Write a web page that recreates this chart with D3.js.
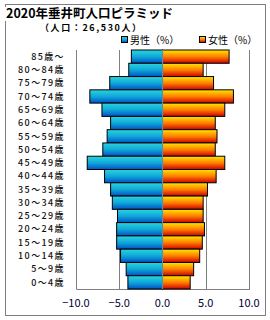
<!DOCTYPE html>
<html>
<head>
<meta charset="utf-8">
<script src="https://cdn.jsdelivr.net/npm/d3@7"></script>
<style>
  body { margin: 0; background: #fff; }
  text { font-family: "Noto Sans CJK JP", "DejaVu Sans", sans-serif; }
</style>
</head>
<body>
<svg id="chart" width="270" height="320"></svg>
<script>
// age groups, top to bottom
const ageGroups = ['85歳～', '80～84歳', '75～79歳', '70～74歳', '65～69歳', '60～64歳',
  '55～59歳', '50～54歳', '45～49歳', '40～44歳', '35～39歳', '30～34歳',
  '25～29歳', '20～24歳', '15～19歳', '10～14歳', '5～9歳', '0～4歳'];

// share of population (%)
const male = [3.6, 3.9, 6.1, 8.4, 7.0, 6.0, 6.4, 6.9, 8.7, 6.7, 6.0, 5.8, 5.2, 5.3, 5.3, 4.85, 4.2, 4.0];
const female = [7.7, 4.7, 5.9, 8.2, 7.2, 6.1, 6.3, 6.1, 7.2, 6.2, 5.2, 4.7, 4.7, 4.85, 4.6, 4.3, 3.6, 3.2];

const xTicks = [-10, -5, 0, 5, 10];

const svg = d3.select('#chart');

const plot = { left: 76, right: 249, top: 50, bottom: 289 };

// Gradients
const defs = svg.append('defs');
const gm = defs.append('linearGradient').attr('id', 'gMale')
  .attr('x1', 0).attr('y1', 0).attr('x2', 0).attr('y2', 1);
gm.append('stop').attr('offset', '0%').attr('stop-color', '#2ad4dc');
gm.append('stop').attr('offset', '50%').attr('stop-color', '#10a8d8');
gm.append('stop').attr('offset', '100%').attr('stop-color', '#0050c8');
const gf = defs.append('linearGradient').attr('id', 'gFemale')
  .attr('x1', 0).attr('y1', 0).attr('x2', 0).attr('y2', 1);
gf.append('stop').attr('offset', '0%').attr('stop-color', '#ffe600');
gf.append('stop').attr('offset', '50%').attr('stop-color', '#ff8000');
gf.append('stop').attr('offset', '100%').attr('stop-color', '#d00000');

// outer frame
svg.append('rect')
  .attr('x', 5.5).attr('y', 4.5).attr('width', 260).attr('height', 311)
  .attr('fill', 'none').attr('stroke', '#808080').attr('stroke-width', 1);

const x = d3.scaleLinear().domain([-10, 10]).range([plot.left, plot.right]);
const y = d3.scaleBand().domain(ageGroups).range([plot.top, plot.bottom]).padding(0);

// grid lines
svg.append('g').selectAll('line')
  .data(xTicks.filter(d => d !== -10 && d !== 0))
  .join('line')
  .attr('x1', d => Math.round(x(d)) + 0.5).attr('x2', d => Math.round(x(d)) + 0.5)
  .attr('y1', plot.top).attr('y2', plot.bottom)
  .attr('stroke', '#808080');

// left + bottom axis lines
svg.append('path')
  .attr('d', `M${plot.left + 0.5},${plot.top}V${plot.bottom + 0.5}H${Math.round(x(10)) + 1}`)
  .attr('fill', 'none').attr('stroke', '#808080');

// bars
svg.append('g').selectAll('rect')
  .data(male)
  .join('rect')
  .attr('x', d => x(-d))
  .attr('y', (d, i) => y(ageGroups[i]))
  .attr('width', d => x(0) - x(-d))
  .attr('height', y.bandwidth())
  .attr('fill', 'url(#gMale)')
  .attr('stroke', '#000').attr('stroke-width', 1);

svg.append('g').selectAll('rect')
  .data(female)
  .join('rect')
  .attr('x', x(0))
  .attr('y', (d, i) => y(ageGroups[i]))
  .attr('width', d => x(d) - x(0))
  .attr('height', y.bandwidth())
  .attr('fill', 'url(#gFemale)')
  .attr('stroke', '#000').attr('stroke-width', 1);

// zero line
svg.append('line')
  .attr('x1', x(0)).attr('x2', x(0))
  .attr('y1', plot.top).attr('y2', plot.bottom)
  .attr('stroke', '#5f8fa8').attr('stroke-width', 1.2);

// y labels
svg.append('g').selectAll('text')
  .data(ageGroups)
  .join('text')
  .attr('x', 65)
  .attr('y', d => y(d) + y.bandwidth() / 2 + 3.2)
  .attr('text-anchor', 'end')
  .attr('font-size', 9)
  .attr('letter-spacing', 1.4)
  .attr('font-weight', 500)
  .attr('fill', '#111')
  .text(d => d);

// x tick labels
svg.append('g').selectAll('text')
  .data(xTicks)
  .join('text')
  .attr('x', d => x(d))
  .attr('y', 307)
  .attr('text-anchor', 'middle')
  .attr('font-size', 11)
  .attr('fill', '#000033')
  .text(d => (d < 0 ? '−' : '') + Math.abs(d).toFixed(1));

// title
svg.append('rect').attr('x', 5).attr('y', 7).attr('width', 172).attr('height', 14).attr('fill', '#fff');
svg.append('text')
  .attr('x', 6).attr('y', 18)
  .attr('font-size', 12.5).attr('font-weight', 'bold')
  .attr('fill', '#000')
  .text('2020年垂井町人口ピラミッド');

svg.append('text')
  .attr('x', 40).attr('y', 31)
  .attr('font-size', 9).attr('font-weight', 'bold')
  .attr('letter-spacing', 1.6)
  .attr('fill', '#000')
  .text('（人口：26,530人）');

// legend
const legend = [
  { label: '男性（%）', fill: 'url(#gMale)', x: 121 },
  { label: '女性（%）', fill: 'url(#gFemale)', x: 199 }
];
const lg = svg.append('g').selectAll('g').data(legend).join('g')
  .attr('transform', d => `translate(${d.x},36)`);
lg.append('rect').attr('x', 0.5).attr('y', 0.5).attr('width', 6).attr('height', 6)
  .attr('fill', d => d.fill).attr('stroke', '#000');
lg.append('text').attr('x', 9).attr('y', 7.5)
  .attr('font-size', 10).attr('fill', '#000')
  .text(d => d.label);
</script>
</body>
</html>
